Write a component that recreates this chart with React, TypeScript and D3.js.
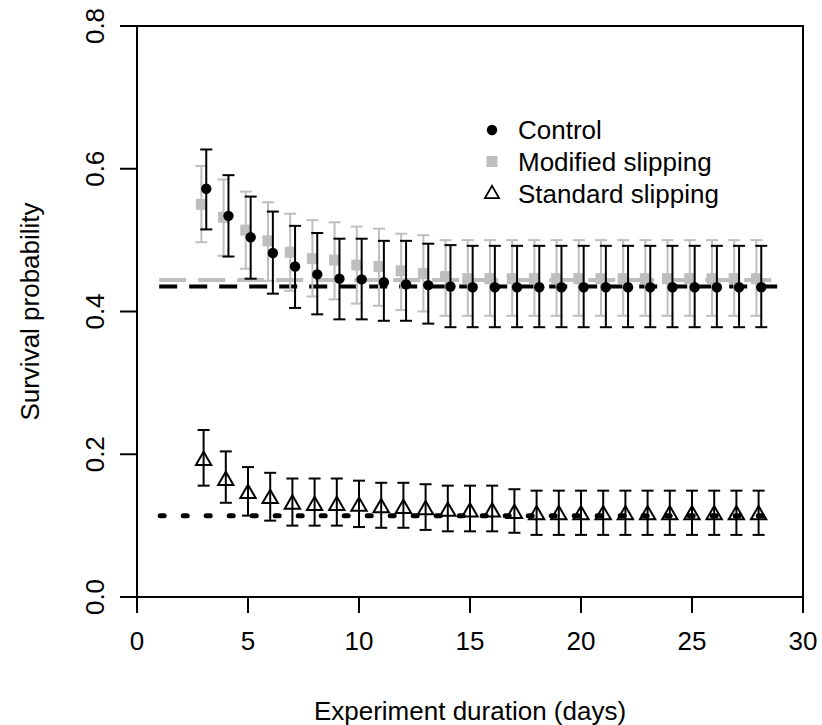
import React from "react";
import * as d3 from "d3";

const days = [3, 4, 5, 6, 7, 8, 9, 10, 11, 12, 13, 14, 15, 16, 17, 18, 19, 20, 21, 22, 23, 24, 25, 26, 27, 28];

const controlMean = [0.572, 0.534, 0.504, 0.482, 0.463, 0.452, 0.446, 0.445, 0.441, 0.438, 0.437, 0.435, 0.434, 0.434, 0.434, 0.434, 0.434, 0.434, 0.434, 0.434, 0.434, 0.434, 0.434, 0.434, 0.434, 0.434];
const controlUpper = [0.627, 0.591, 0.561, 0.540, 0.520, 0.510, 0.502, 0.502, 0.499, 0.499, 0.495, 0.493, 0.492, 0.492, 0.492, 0.492, 0.492, 0.492, 0.492, 0.492, 0.492, 0.492, 0.492, 0.492, 0.492, 0.492];
const controlLower = [0.515, 0.477, 0.446, 0.425, 0.405, 0.396, 0.389, 0.389, 0.387, 0.387, 0.383, 0.378, 0.378, 0.378, 0.378, 0.378, 0.378, 0.378, 0.378, 0.378, 0.378, 0.378, 0.378, 0.378, 0.378, 0.378];

const modMean = [0.550, 0.532, 0.514, 0.499, 0.483, 0.474, 0.472, 0.465, 0.463, 0.457, 0.453, 0.449, 0.446, 0.446, 0.446, 0.446, 0.446, 0.446, 0.446, 0.446, 0.446, 0.446, 0.446, 0.446, 0.446, 0.446];
const modUpper = [0.604, 0.585, 0.568, 0.553, 0.537, 0.528, 0.525, 0.519, 0.516, 0.509, 0.507, 0.500, 0.500, 0.500, 0.500, 0.500, 0.500, 0.500, 0.500, 0.500, 0.500, 0.500, 0.500, 0.500, 0.500, 0.500];
const modLower = [0.497, 0.478, 0.460, 0.443, 0.429, 0.421, 0.417, 0.411, 0.408, 0.402, 0.400, 0.394, 0.394, 0.394, 0.394, 0.394, 0.394, 0.394, 0.394, 0.394, 0.394, 0.394, 0.394, 0.394, 0.394, 0.394];

const stdMean = [0.191, 0.163, 0.145, 0.138, 0.130, 0.128, 0.128, 0.127, 0.125, 0.124, 0.122, 0.120, 0.119, 0.119, 0.117, 0.115, 0.115, 0.115, 0.115, 0.115, 0.115, 0.115, 0.115, 0.115, 0.115, 0.115];
const stdUpper = [0.234, 0.204, 0.182, 0.174, 0.166, 0.166, 0.166, 0.163, 0.160, 0.160, 0.158, 0.156, 0.156, 0.156, 0.151, 0.149, 0.149, 0.149, 0.149, 0.149, 0.149, 0.149, 0.149, 0.149, 0.149, 0.149];
const stdLower = [0.156, 0.132, 0.114, 0.107, 0.100, 0.100, 0.100, 0.098, 0.097, 0.097, 0.094, 0.092, 0.092, 0.092, 0.090, 0.087, 0.087, 0.087, 0.087, 0.087, 0.087, 0.087, 0.087, 0.087, 0.087, 0.087];

const refLevels = { control: 0.435, modified: 0.444, standard: 0.114 };
const refRange = [1, 29];

const xTicks = [0, 5, 10, 15, 20, 25, 30];
const yTicks = [0.0, 0.2, 0.4, 0.6, 0.8];
const legendLabels = ["Control", "Modified slipping", "Standard slipping"];

const W = 822, H = 725;
const L = 137, R = 803, T = 26, B = 597;
const GRAY = "#bebebe";
const FONT = "'Liberation Sans', Arial, sans-serif";
const FS = 26;

export default function App() {
  const x = d3.scaleLinear().domain([0, 30]).range([L, R]);
  const y = d3.scaleLinear().domain([0, 0.8]).range([B, T]);
  const cap = 6;
  const offC = 0.12, offM = -0.1;

  const triPath = (cx: number, cy: number, s = 5.7) => {
    const r = 1.555 * s, xc = 1.347 * s, yc = 0.778 * s;
    return `M${cx},${cy - r}L${cx + xc},${cy + yc}L${cx - xc},${cy + yc}Z`;
  };

  const errbar = (xx: number, lo: number, hi: number, color: string, key: string) => (
    <g key={key} stroke={color} strokeWidth={2} fill="none">
      <line x1={xx} x2={xx} y1={y(lo)} y2={y(hi)} />
      <line x1={xx - cap} x2={xx + cap} y1={y(lo)} y2={y(lo)} />
      <line x1={xx - cap} x2={xx + cap} y1={y(hi)} y2={y(hi)} />
    </g>
  );

  return (
    <svg width={W} height={H} style={{ position: "absolute", left: 0, top: 0, background: "#fff" }} fontFamily={FONT}>
      {/* reference lines */}
      <line x1={x(refRange[0])} x2={x(refRange[1])} y1={y(refLevels.modified)} y2={y(refLevels.modified)} stroke={GRAY} strokeWidth={4} strokeDasharray="27 12" />
      <line x1={x(refRange[0])} x2={x(refRange[1])} y1={y(refLevels.control)} y2={y(refLevels.control)} stroke="#000" strokeWidth={4} strokeDasharray="18 12" />
      <line x1={x(refRange[0])} x2={x(refRange[1])} y1={y(refLevels.standard)} y2={y(refLevels.standard)} stroke="#000" strokeWidth={5} strokeDasharray="4 19" strokeDashoffset={22} strokeLinecap="round" />

      {/* modified */}
      {days.map((d, i) => errbar(x(d + offM), modLower[i], modUpper[i], GRAY, "me" + i))}
      {days.map((d, i) => (
        <rect key={"m" + i} x={x(d + offM) - 5.5} y={y(modMean[i]) - 5.5} width={11} height={11} fill={GRAY} />
      ))}
      {/* control */}
      {days.map((d, i) => errbar(x(d + offC), controlLower[i], controlUpper[i], "#000", "ce" + i))}
      {days.map((d, i) => (
        <circle key={"c" + i} cx={x(d + offC)} cy={y(controlMean[i])} r={5.2} fill="#000" />
      ))}
      {/* standard */}
      {days.map((d, i) => errbar(x(d), stdLower[i], stdUpper[i], "#000", "se" + i))}
      {days.map((d, i) => (
        <path key={"s" + i} d={triPath(x(d), y(stdMean[i]))} fill="none" stroke="#000" strokeWidth={2} />
      ))}

      {/* box */}
      <rect x={L} y={T} width={R - L} height={B - T} fill="none" stroke="#000" strokeWidth={2} />

      {/* x axis */}
      {xTicks.map((t) => (
        <g key={"xt" + t}>
          <line x1={x(t)} x2={x(t)} y1={B} y2={B + 16} stroke="#000" strokeWidth={2} />
          <text x={x(t)} y={B + 53} fontSize={FS} textAnchor="middle">{t}</text>
        </g>
      ))}
      {/* y axis */}
      {yTicks.map((t) => (
        <g key={"yt" + t}>
          <line x1={L - 17} x2={L} y1={y(t)} y2={y(t)} stroke="#000" strokeWidth={2} />
          <text transform={`translate(${L - 33},${y(t)}) rotate(-90)`} fontSize={FS} textAnchor="middle">{t.toFixed(1)}</text>
        </g>
      ))}

      <text x={(L + R) / 2} y={720} fontSize={FS} textAnchor="middle">Experiment duration (days)</text>
      <text transform={`translate(39,${(T + B) / 2}) rotate(-90)`} fontSize={FS} textAnchor="middle">Survival probability</text>

      {/* legend */}
      <g fontSize={FS}>
        <circle cx={492} cy={130} r={5.2} fill="#000" />
        <text x={518} y={139}>{legendLabels[0]}</text>
        <rect x={486.5} y={156} width={11} height={11} fill={GRAY} />
        <text x={518} y={171}>{legendLabels[1]}</text>
        <path d={triPath(492, 194, 5.2)} fill="none" stroke="#000" strokeWidth={1.8} />
        <text x={518} y={203}>{legendLabels[2]}</text>
      </g>
    </svg>
  );
}
